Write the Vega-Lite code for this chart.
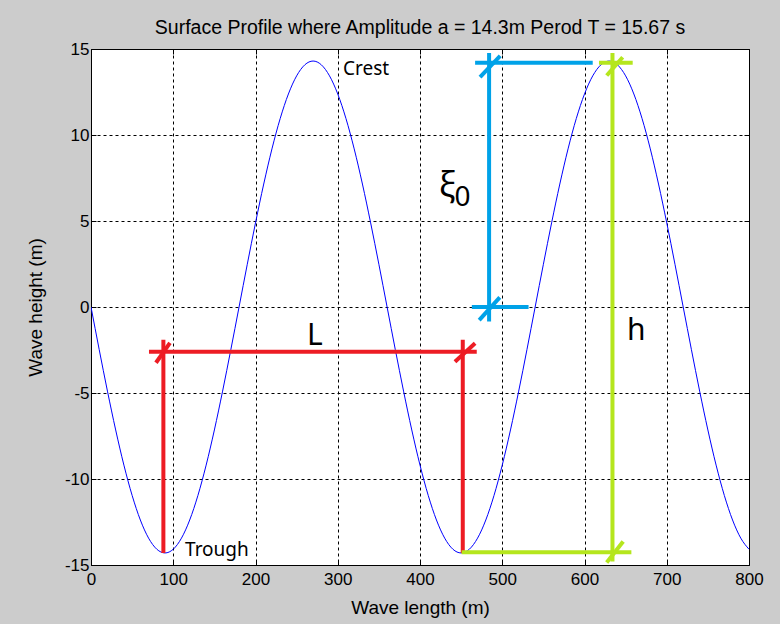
{
  "$schema": "https://vega.github.io/schema/vega-lite/v6.json",
  "width": 658,
  "height": 516,
  "autosize": {"type": "none"},
  "padding": {"left": 91, "top": 49, "right": 31, "bottom": 59},
  "background": "#cccccc",
  "title": {"text": "Surface Profile where Amplitude a = 14.3m Perod T = 15.67 s", "anchor": "middle", "font": "Liberation Sans", "fontSize": 19.5, "fontWeight": "normal", "color": "#000000", "baseline": "alphabetic", "offset": 17, "dy": 30},
  "config": {
    "view": {"stroke": "#000000", "strokeWidth": 1, "fill": "#ffffff"},
    "axis": {"labelFont": "Liberation Sans", "labelFontSize": 17, "labelColor": "#000000", "titleFont": "Liberation Sans", "titleFontSize": 19, "titleFontWeight": "normal", "titleColor": "#000000", "domain": false, "tickColor": "#000000", "gridColor": "#000000", "gridDash": [3, 3], "gridOpacity": 1, "gridWidth": 1, "labelFlush": false, "labelOverlap": false}
  },
  "datasets": {
    "wave": [
      {"x": 0, "y": 0}, {"x": 10, "y": -2.483}, {"x": 20, "y": -4.891}, {"x": 30, "y": -7.15}, {"x": 40, "y": -9.192}, {"x": 50, "y": -10.954}, {"x": 60, "y": -12.384}, {"x": 70, "y": -13.438}, {"x": 80, "y": -14.083}, {"x": 90, "y": -14.3},
      {"x": 100, "y": -14.083}, {"x": 110, "y": -13.438}, {"x": 120, "y": -12.384}, {"x": 130, "y": -10.954}, {"x": 140, "y": -9.192}, {"x": 150, "y": -7.15}, {"x": 160, "y": -4.891}, {"x": 170, "y": -2.483}, {"x": 180, "y": 0},
      {"x": 190, "y": 2.483}, {"x": 200, "y": 4.891}, {"x": 210, "y": 7.15}, {"x": 220, "y": 9.192}, {"x": 230, "y": 10.954}, {"x": 240, "y": 12.384}, {"x": 250, "y": 13.438}, {"x": 260, "y": 14.083}, {"x": 270, "y": 14.3},
      {"x": 280, "y": 14.083}, {"x": 290, "y": 13.438}, {"x": 300, "y": 12.384}, {"x": 310, "y": 10.954}, {"x": 320, "y": 9.192}, {"x": 330, "y": 7.15}, {"x": 340, "y": 4.891}, {"x": 350, "y": 2.483}, {"x": 360, "y": 0},
      {"x": 370, "y": -2.483}, {"x": 380, "y": -4.891}, {"x": 390, "y": -7.15}, {"x": 400, "y": -9.192}, {"x": 410, "y": -10.954}, {"x": 420, "y": -12.384}, {"x": 430, "y": -13.438}, {"x": 440, "y": -14.083}, {"x": 450, "y": -14.3},
      {"x": 460, "y": -14.083}, {"x": 470, "y": -13.438}, {"x": 480, "y": -12.384}, {"x": 490, "y": -10.954}, {"x": 500, "y": -9.192}, {"x": 510, "y": -7.15}, {"x": 520, "y": -4.891}, {"x": 530, "y": -2.483}, {"x": 540, "y": 0},
      {"x": 550, "y": 2.483}, {"x": 560, "y": 4.891}, {"x": 570, "y": 7.15}, {"x": 580, "y": 9.192}, {"x": 590, "y": 10.954}, {"x": 600, "y": 12.384}, {"x": 610, "y": 13.438}, {"x": 620, "y": 14.083}, {"x": 630, "y": 14.3},
      {"x": 640, "y": 14.083}, {"x": 650, "y": 13.438}, {"x": 660, "y": 12.384}, {"x": 670, "y": 10.954}, {"x": 680, "y": 9.192}, {"x": 690, "y": 7.15}, {"x": 700, "y": 4.891}, {"x": 710, "y": 2.483}, {"x": 720, "y": 0},
      {"x": 730, "y": -2.483}, {"x": 740, "y": -4.891}, {"x": 750, "y": -7.15}, {"x": 760, "y": -9.192}, {"x": 770, "y": -10.954}, {"x": 780, "y": -12.384}, {"x": 790, "y": -13.438}, {"x": 800, "y": -14.083}
    ],
    "segs": [
      {"part": "L", "x": 88, "y": -14.3, "x2": 88, "y2": -1.9},
      {"part": "L", "x": 452, "y": -14.3, "x2": 452, "y2": -1.9},
      {"part": "L", "x": 70.5, "y": -2.6, "x2": 469, "y2": -2.6},
      {"part": "L", "x": 79, "y": -3.24, "x2": 96, "y2": -2.08},
      {"part": "L", "x": 442.5, "y": -3.18, "x2": 467, "y2": -2.11},
      {"part": "xi", "x": 484, "y": -0.85, "x2": 484, "y2": 14.77},
      {"part": "xi", "x": 467, "y": 14.2, "x2": 610, "y2": 14.2},
      {"part": "xi", "x": 463, "y": 0, "x2": 532, "y2": 0},
      {"part": "xi", "x": 473, "y": 13.37, "x2": 497.5, "y2": 14.6},
      {"part": "xi", "x": 472, "y": -0.76, "x2": 497, "y2": 0.56},
      {"part": "h", "x": 634, "y": -14.8, "x2": 634, "y2": 14.77},
      {"part": "h", "x": 617.6, "y": 14.2, "x2": 658.6, "y2": 14.2},
      {"part": "h", "x": 450.6, "y": -14.26, "x2": 657, "y2": -14.26},
      {"part": "h", "x": 627, "y": 13.46, "x2": 646.4, "y2": 14.52},
      {"part": "h", "x": 627, "y": -14.86, "x2": 647, "y2": -13.64}
    ],
    "labels": [
      {"kind": "small", "text": "Crest", "x": 306.4, "y": 13.49},
      {"kind": "small", "text": "Trough", "x": 114.3, "y": -14.46},
      {"kind": "big", "text": "L", "x": 262.6, "y": -2.21},
      {"kind": "big", "text": "h", "x": 651.7, "y": -1.92},
      {"kind": "xi", "text": "ξ", "x": 423, "y": 6.45},
      {"kind": "sub", "text": "0", "x": 441.8, "y": 5.85}
    ]
  },
  "resolve": {"axis": {"x": "independent", "y": "independent"}},
  "layer": [
    {
      "data": {"name": "wave"},
      "mark": {"type": "line", "color": "#0000ff", "strokeWidth": 1, "interpolate": "monotone", "clip": true},
      "encoding": {
        "x": {"field": "x", "type": "quantitative", "scale": {"domain": [0, 800], "nice": false, "zero": false},
              "axis": {"title": "Wave length (m)", "values": [0, 100, 200, 300, 400, 500, 600, 700, 800], "labelExpr": "'' + datum.value", "grid": true, "tickSize": -5, "labelPadding": 11, "titleY": 42, "titleBaseline": "middle"}},
        "y": {"field": "y", "type": "quantitative", "scale": {"domain": [-15, 15], "nice": false, "zero": false},
              "axis": {"title": "Wave height (m)", "values": [-15, -10, -5, 0, 5, 10, 15], "labelExpr": "'' + datum.value", "grid": true, "tickSize": -5, "labelPadding": 7, "titleX": -56, "titleBaseline": "middle"}}
      }
    },
    {
      "data": {"name": "segs"},
      "mark": {"type": "rule", "strokeWidth": 4},
      "encoding": {
        "x": {"field": "x", "type": "quantitative", "axis": {"orient": "top", "title": null, "labels": false, "grid": false, "values": [0, 100, 200, 300, 400, 500, 600, 700, 800], "tickSize": -5, "minExtent": 0, "maxExtent": 0}},
        "y": {"field": "y", "type": "quantitative", "axis": {"orient": "right", "title": null, "labels": false, "grid": false, "values": [-15, -10, -5, 0, 5, 10, 15], "tickSize": -5, "minExtent": 0, "maxExtent": 0}},
        "x2": {"field": "x2"},
        "y2": {"field": "y2"},
        "color": {"field": "part", "type": "nominal", "scale": {"domain": ["L", "xi", "h"], "range": ["#ed1c24", "#00a2e8", "#b5e61d"]}, "legend": null}
      }
    },
    {
      "data": {"name": "labels"},
      "transform": [{"filter": "datum.kind == 'small'"}],
      "mark": {"type": "text", "font": "Noto Sans", "fontSize": 19, "align": "left", "baseline": "alphabetic", "color": "#000000"},
      "encoding": {
        "x": {"field": "x", "type": "quantitative", "axis": null},
        "y": {"field": "y", "type": "quantitative", "axis": null},
        "text": {"field": "text"}
      }
    },
    {
      "data": {"name": "labels"},
      "transform": [{"filter": "datum.kind == 'big'"}],
      "mark": {"type": "text", "font": "Noto Sans", "fontSize": 30, "align": "left", "baseline": "alphabetic", "color": "#000000"},
      "encoding": {
        "x": {"field": "x", "type": "quantitative", "axis": null},
        "y": {"field": "y", "type": "quantitative", "axis": null},
        "text": {"field": "text"}
      }
    },
    {
      "data": {"name": "labels"},
      "transform": [{"filter": "datum.kind == 'xi'"}],
      "mark": {"type": "text", "font": "Noto Sans", "fontSize": 34, "align": "left", "baseline": "alphabetic", "color": "#000000"},
      "encoding": {
        "x": {"field": "x", "type": "quantitative", "axis": null},
        "y": {"field": "y", "type": "quantitative", "axis": null},
        "text": {"field": "text"}
      }
    },
    {
      "data": {"name": "labels"},
      "transform": [{"filter": "datum.kind == 'sub'"}],
      "mark": {"type": "text", "font": "Noto Sans", "fontSize": 28, "align": "left", "baseline": "alphabetic", "color": "#000000"},
      "encoding": {
        "x": {"field": "x", "type": "quantitative", "axis": null},
        "y": {"field": "y", "type": "quantitative", "axis": null},
        "text": {"field": "text"}
      }
    }
  ]
}
